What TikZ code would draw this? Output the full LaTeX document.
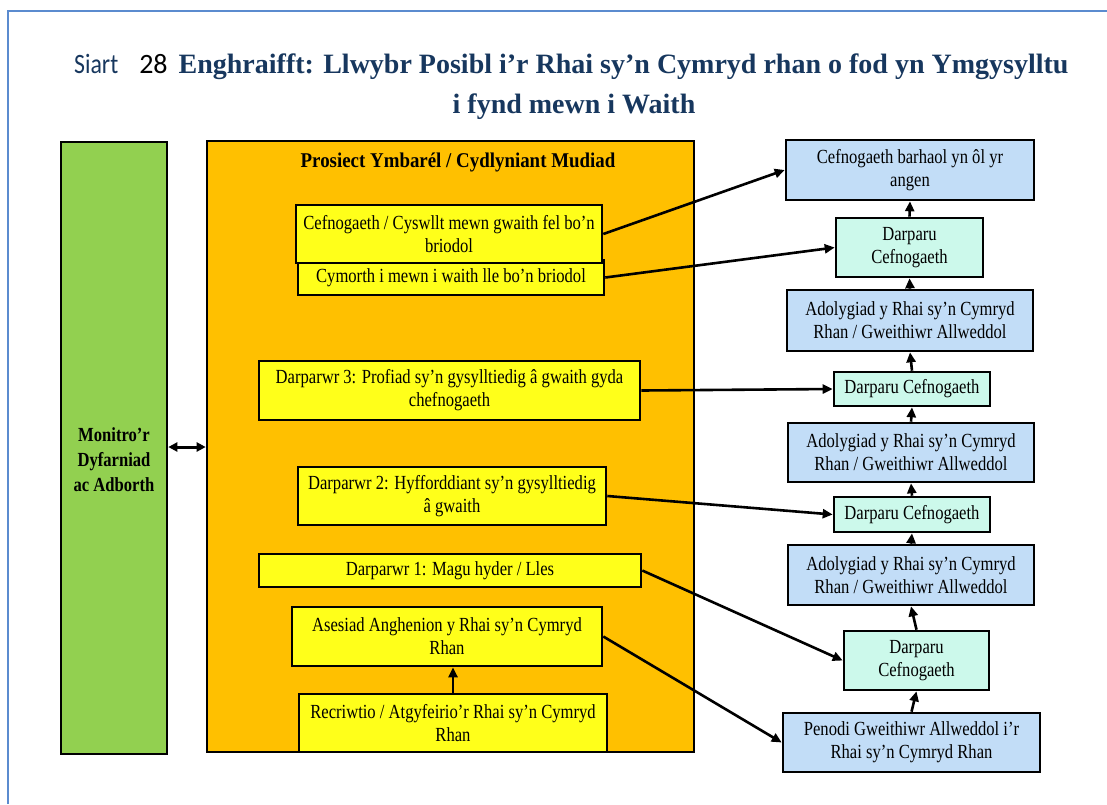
\documentclass[tikz,border=0pt]{standalone}
\usepackage{fontspec}
\setmainfont{Liberation Serif}[FakeStretch=0.83]
\newfontfamily\titlefont{Liberation Serif}[FakeStretch=1.0]
\newfontfamily\orgfont{Liberation Serif}[FakeStretch=0.9]
\newfontfamily\siafont{Carlito}[FakeStretch=0.85]
\newfontfamily\numfont{Carlito}
\usetikzlibrary{arrows.meta}
\definecolor{frameblue}{HTML}{5B8BCF}
\definecolor{mongreen}{HTML}{92D050}
\definecolor{orng}{HTML}{FFC000}
\definecolor{yel}{HTML}{FFFF1A}
\definecolor{lblue}{HTML}{C2DDF7}
\definecolor{mint}{HTML}{CCF9EB}
\definecolor{navy}{HTML}{17375E}
\tikzset{
  box/.style={draw=black, line width=2.6pt, rectangle, inner sep=0pt, align=center,
    font=\fontsize{20}{23}\selectfont},
  ybox/.style={box, fill=yel},
  bbox/.style={box, fill=lblue},
  mbox/.style={box, fill=mint},
  arr/.style={-{Triangle[length=10pt,width=9pt]}, line width=2.6pt},
  darr/.style={{Triangle[length=9pt,width=9pt]}-{Triangle[length=9pt,width=9pt]}, line width=3pt},
  sz/.style n args={2}{minimum width=#1pt, minimum height=#2pt},
}
\begin{document}
\begin{tikzpicture}[x=1pt,y=-1pt]
\useasboundingbox (0,0) rectangle (1107,804);
\fill[white] (0,0) rectangle (1107,804);
\draw[frameblue, line width=2pt] (8,804) -- (8,11) -- (1107,11);

% title
\node[anchor=base west, text=navy, inner sep=0pt] (t1) at (74,73)
  {{\siafont\fontsize{28}{30}\selectfont Siart}\hspace{21pt}{\numfont\fontsize{28}{30}\selectfont\color{black}28}\hspace{11pt}{\titlefont\bfseries\fontsize{28}{30}\selectfont Enghraifft: Llwybr Posibl i’r Rhai sy’n Cymryd rhan o fod yn Ymgysylltu}};
\node[anchor=base, text=navy, inner sep=0pt] (t2) at (574,113)
  {\titlefont\bfseries\fontsize{28}{30}\selectfont i fynd mewn i Waith};

% left column
\node[box, fill=mongreen, sz={106}{612}] (mon) at (114,448) {};
\node[align=center, font=\bfseries\fontsize{20}{25}\selectfont] (montxt) at (114,460) {Monitro’r\\Dyfarniad\\ac Adborth};

\node[box, fill=orng, sz={487}{611}] (org) at (450.5,446.5) {};
\node[font=\orgfont\bfseries\fontsize{21}{23}\selectfont, inner sep=0pt] (orgtxt) at (458,162) {Prosiect Ymbarél / Cydlyniant Mudiad};

\node[ybox, sz={306}{35}] (b2) at (451,277.5) {Cymorth i mewn i waith lle bo’n briodol};
\node[ybox, sz={306}{58}] (b1) at (449,234) {Cefnogaeth / Cyswllt mewn gwaith fel bo’n\\briodol};
\node[ybox, sz={381}{59}] (b3) at (449.5,390.5) {Darparwr 3: Profiad sy’n gysylltiedig â gwaith gyda\\chefnogaeth};
\node[ybox, sz={308}{58}] (b4) at (452,496) {Darparwr 2: Hyfforddiant sy’n gysylltiedig\\â gwaith};
\node[ybox, sz={382}{33}] (b5) at (450,570.5) {Darparwr 1: Magu hyder / Lles};
\node[ybox, sz={310}{59}] (b6) at (447,636.5) {Asesiad Anghenion y Rhai sy’n Cymryd\\Rhan};
\node[ybox, sz={308}{58}] (b7) at (453,723) {Recriwtio / Atgyfeirio’r Rhai sy’n Cymryd\\Rhan};

% right column
\node[bbox, sz={248}{60}] (r1) at (910,170) {Cefnogaeth barhaol yn ôl yr\\angen};
\node[mbox, sz={147}{59}] (r2) at (909.5,247.5) {Darparu\\Cefnogaeth};
\node[bbox, sz={246}{61}] (r3) at (910,320.5) {Adolygiad y Rhai sy’n Cymryd\\Rhan / Gweithiwr Allweddol};
\node[mbox, sz={156}{34}] (r4) at (912,389) {Darparu Cefnogaeth};
\node[bbox, sz={246}{59}] (r5) at (911,452.5) {Adolygiad y Rhai sy’n Cymryd\\Rhan / Gweithiwr Allweddol};
\node[mbox, sz={156}{35}] (r6) at (912,514.5) {Darparu Cefnogaeth};
\node[bbox, sz={246}{60}] (r7) at (911,575) {Adolygiad y Rhai sy’n Cymryd\\Rhan / Gweithiwr Allweddol};
\node[mbox, sz={145}{59}] (r8) at (916.5,660.5) {Darparu\\Cefnogaeth};
\node[bbox, sz={257}{59}] (r9) at (911.5,742.5) {Penodi Gweithiwr Allweddol i’r\\Rhai sy’n Cymryd Rhan};

% connectors
\draw[darr] (mon.east |- 0,447) -- (org.west |- 0,447);
\draw[arr] (b7.north) -- (b7.north |- b6.south);
\draw[arr] (b1.east) -- (r1.west);
\draw[arr] (b2.east) -- (r2.west);
\draw[arr] (b3.east) -- (r4.west);
\draw[arr] (b4.east) -- (r6.west);
\draw[arr] (b5.east) -- (r8.west);
\draw[arr] (b6.east) -- (r9.west);
\draw[arr] (r9.north) -- (r8.south);
\draw[arr] (r8.north) -- (r7.south);
\draw[arr] (r7.north) -- (r6.south);
\draw[arr] (r6.north) -- (r5.south);
\draw[arr] (r5.north) -- (r4.south);
\draw[arr] (r4.north) -- (r3.south);
\draw[arr] (r3.north) -- (r2.south);
\draw[arr] (r2.north) -- (r1.south);
\end{tikzpicture}
\end{document}
